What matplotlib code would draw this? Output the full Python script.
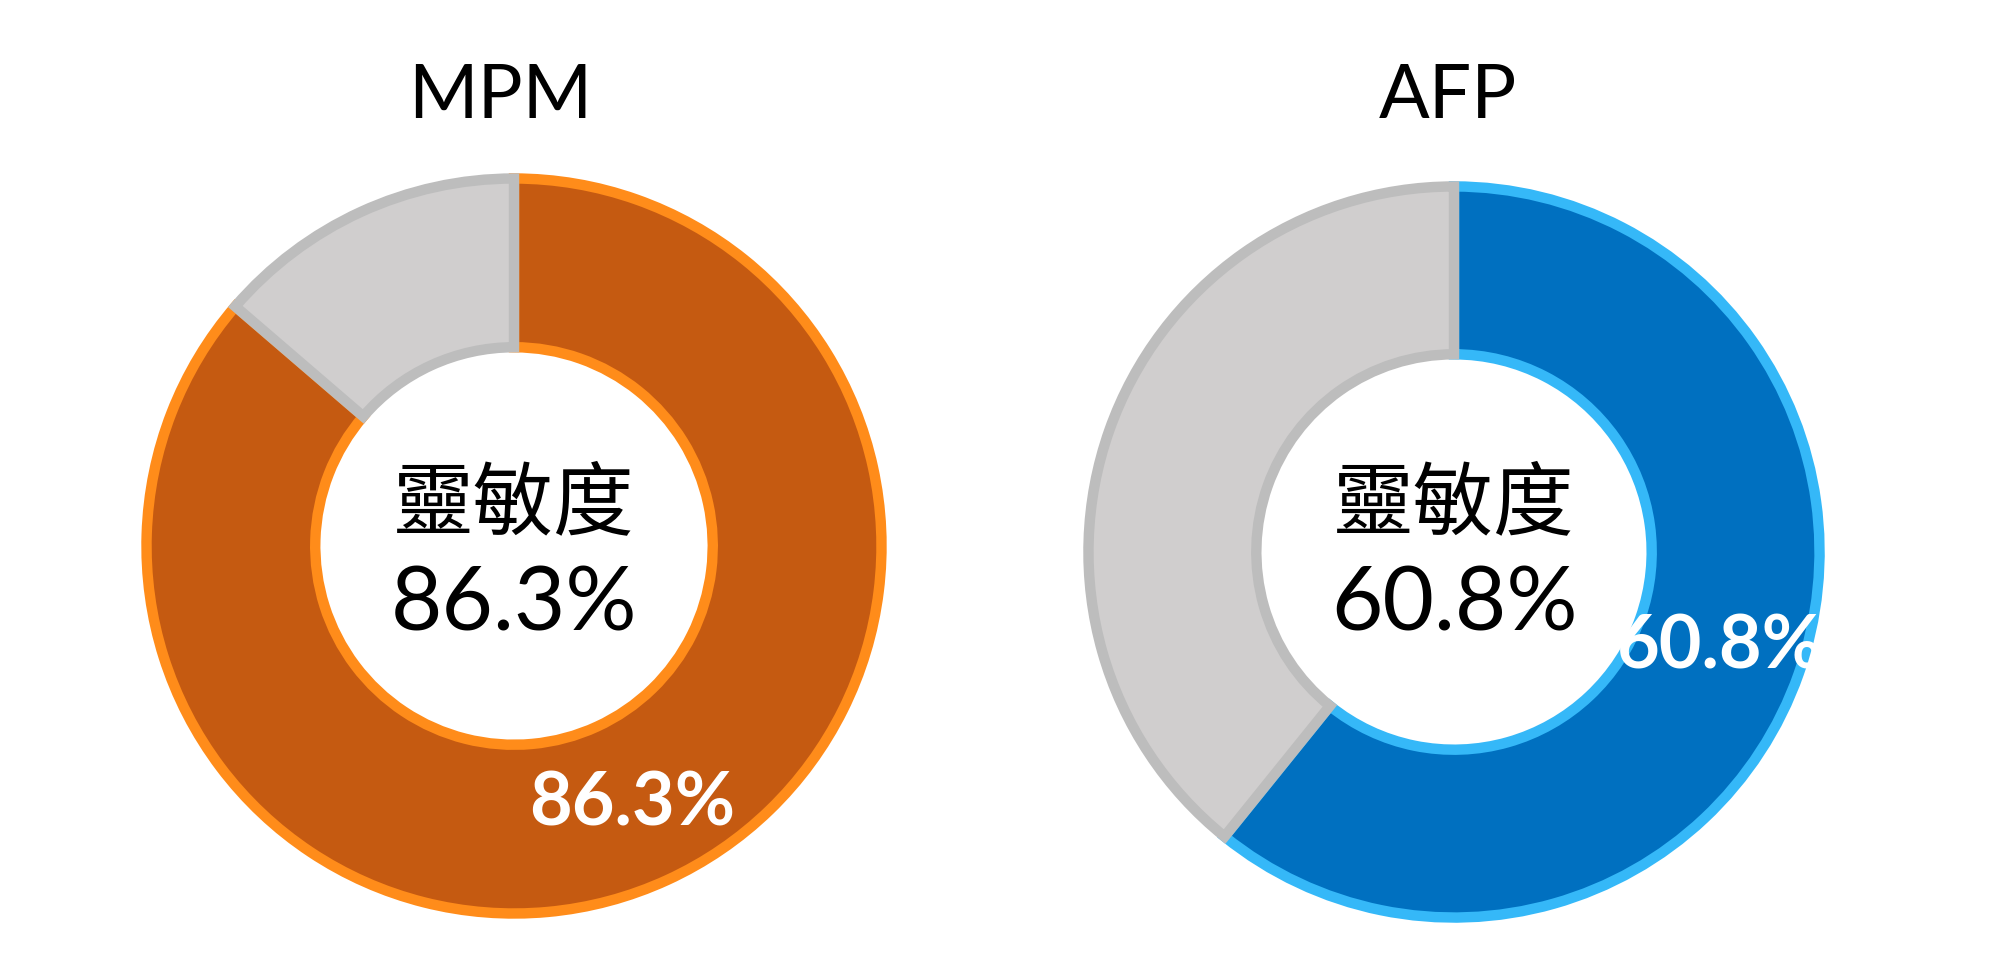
import matplotlib
matplotlib.use('Agg')
import matplotlib.pyplot as plt

# Données des deux graphiques en anneau
titles = ['MPM', 'AFP']
sensitivity = [86.3, 60.8]
center_label = '靈敏度'

# Couleurs (remplissage, bordure)
main_colors = ['#C55A11', '#0070C0']
main_edges = ['#FF8C1A', '#35B8F8']
rest_color = '#D0CECE'
rest_edge = '#BDBDBD'

# Positions des anneaux en pixels (centre x, centre y depuis le haut, rayon, x du titre)
W, H = 2000, 978
rings = [(514, 547, 375, 500), (1454, 553, 373, 1448)]

fig = plt.figure(figsize=(W / 100, H / 100), dpi=100)
fig.patch.set_facecolor('white')

for i, (cx, cy, r, tx) in enumerate(rings):
    ax = fig.add_axes([(cx - r) / W, (H - cy - r) / H, 2 * r / W, 2 * r / H])
    value = sensitivity[i]
    wedges = ax.pie(
        [value, 100 - value],
        colors=[main_colors[i], rest_color],
        startangle=90,
        counterclock=False,
        radius=0.98,
        wedgeprops=dict(width=0.45, linewidth=7.5),
    )[0]
    wedges[0].set_edgecolor(main_edges[i])
    wedges[1].set_edgecolor(rest_edge)

    # Étiquette dans l'anneau, au milieu du segment principal
    ax.pie(
        [value, 100 - value],
        colors=['none', 'none'],
        startangle=90,
        counterclock=False,
        radius=0.98,
        wedgeprops=dict(width=0.45, linewidth=0),
        autopct=lambda p: f'{p:.1f}%' if p > 50 else '',
        pctdistance=0.77,
        textprops=dict(color='white', fontsize=53, fontweight='bold', family='Lato'),
    )
    ax.set_xlim(-1, 1)
    ax.set_ylim(-1, 1)
    ax.set_aspect('equal')
    ax.axis('off')

    # Titre et texte central
    fig.text(tx / W, 1 - 118 / H, titles[i], ha='center', va='baseline',
             fontsize=54, family='Lato')
    fig.text(cx / W, 1 - 528 / H, center_label, ha='center', va='baseline',
             fontsize=58, family=['Noto Sans CJK TC', 'DejaVu Sans'])
    fig.text(cx / W, 1 - 631 / H, f'{value}%', ha='center', va='baseline',
             fontsize=64, family='Lato')

plt.savefig('out.png', dpi=100, facecolor='white')
